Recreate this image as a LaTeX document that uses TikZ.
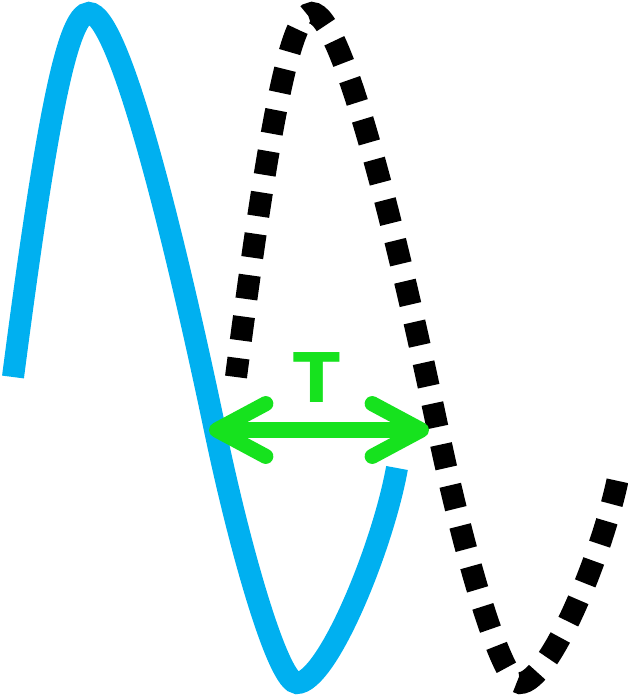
\documentclass[tikz,border=0pt]{standalone}
\usepackage{fontspec}
\setsansfont{DejaVu Sans}
\usepackage{tikz}
\usetikzlibrary{positioning,arrows.meta}
\definecolor{waveblue}{RGB}{0,176,240}
\definecolor{periodgreen}{RGB}{22,226,30}
\tikzset{
  pics/wave/.style={
    code = {
        \draw [#1] (13,377) .. controls (45.5,127) and (67,13) .. (89,13)
            .. controls (119,13) and (173,230) .. (215,430)
            .. controls (242.3,560) and (279,683) .. (297,683)
            .. controls (327,683) and (382.6,548) .. (397,468);
    }
  },
  solid wave/.style={line width=6.26pt, color=waveblue},
  dotted wave/.style={line width=6.26pt, color=black, dash pattern=on 6.83pt off 5.06pt, dash phase=1.4pt},
  period arrow/.style={line width=4.3pt, color=periodgreen,
    arrows={Straight Barb[length=14pt, width=15pt, round]-Straight Barb[length=14pt, width=15pt, round]}},
  period label/.style={text=periodgreen, font=\sffamily\bfseries\fontsize{19.5}{20}\selectfont, inner sep=0pt}
}
\begin{document}
\begin{tikzpicture}[x=0.01cm, y=-0.01cm]
            \useasboundingbox (0,0) rectangle (628,696);
            \pic at (0,0) {wave={solid wave}};
            \pic at (223,0) {wave={dotted wave}};

            \coordinate (L) at (209,430);
            \coordinate (R) at (429,430);
            \draw [period arrow] (L) -- (R);
            \node (T) [period label] at (317,377) {T};
        \end{tikzpicture}
\end{document}
